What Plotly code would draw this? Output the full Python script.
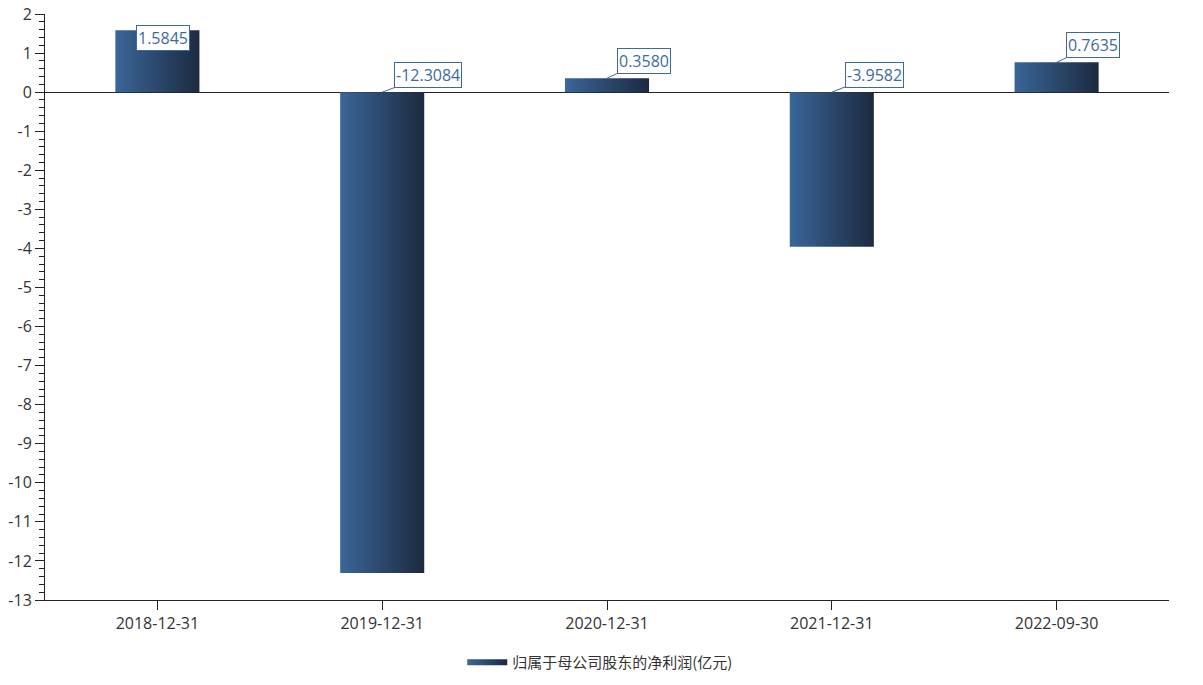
import plotly.graph_objects as go

categories = ["2018-12-31", "2019-12-31", "2020-12-31", "2021-12-31", "2022-09-30"]
values = [1.5845, -12.3084, 0.3580, -3.9582, 0.7635]
label_text = ["1.5845", "-12.3084", "0.3580", "-3.9582", "0.7635"]
series_name = "归属于母公司股东的净利润(亿元)"
y_ticks = list(range(-13, 3))
y_tick_text = [str(t) for t in y_ticks]

# label offsets (pixels) relative to bar top
label_ax = [6, 46, 37, 43, 36]
label_ay = [8, -17, -17, -17, -17]

half_w = 0.187
grad = [[0, "#3a6698"], [1, "#1c2a40"]]
num_font = "Open Sans, Noto Sans CJK SC, sans-serif"
cjk_font = "Noto Sans CJK SC, sans-serif"

fig = go.Figure()
for i, v in enumerate(values):
    fig.add_trace(go.Scatter(
        x=[i - half_w, i + half_w, i + half_w, i - half_w, i - half_w],
        y=[0, 0, v, v, 0],
        mode="none",
        fill="toself",
        fillgradient=dict(type="horizontal", colorscale=grad),
        name=series_name,
        legendgroup="s",
        showlegend=(i == 0),
        hoverinfo="skip",
    ))

for i, v in enumerate(values):
    fig.add_annotation(
        x=i, y=max(v, 0), xref="x", yref="y",
        text=label_text[i], showarrow=True, arrowhead=0, arrowwidth=1,
        arrowcolor="#3c6aa0", ax=label_ax[i], ay=label_ay[i],
        bgcolor="white", bordercolor="#3c6aa0", borderwidth=1, borderpad=1,
        font=dict(size=16, color="#3c6aa0", family=num_font),
        standoff=0,
    )

fig.update_layout(
    width=1203, height=685,
    margin=dict(l=37, r=42, t=6, b=93),
    plot_bgcolor="white", paper_bgcolor="white",
    font=dict(family=num_font, size=16, color="#333333"),
    showlegend=True,
    legend=dict(orientation="h", x=0.494, xanchor="center", y=-0.0785, yanchor="top",
                font=dict(size=15, color="#333333", family=cjk_font), itemwidth=40),
    xaxis=dict(
        range=[-0.5, 4.5], tickmode="array", tickvals=list(range(len(categories))),
        ticktext=categories, showgrid=False, zeroline=False, showline=True,
        linecolor="#222222", linewidth=1, ticks="outside", ticklen=9, tickcolor="#222222",
        tickfont=dict(size=16, color="#333333", family=num_font), automargin=False,
    ),
    yaxis=dict(
        range=[-13, 2.0005], tickmode="array", tickvals=y_ticks, ticktext=y_tick_text,
        showgrid=False,
        zeroline=True, zerolinecolor="#222222", zerolinewidth=1,
        showline=True, linecolor="#222222", linewidth=1,
        ticks="outside", ticklen=9, tickcolor="#222222",
        tickfont=dict(size=16, color="#333333", family=num_font), automargin=False,
        ticklabeloverflow="allow",
        minor=dict(dtick=0.2, ticks="outside", ticklen=5, tickcolor="#222222", showgrid=False),
    ),
)

fig.write_html("out.html")
